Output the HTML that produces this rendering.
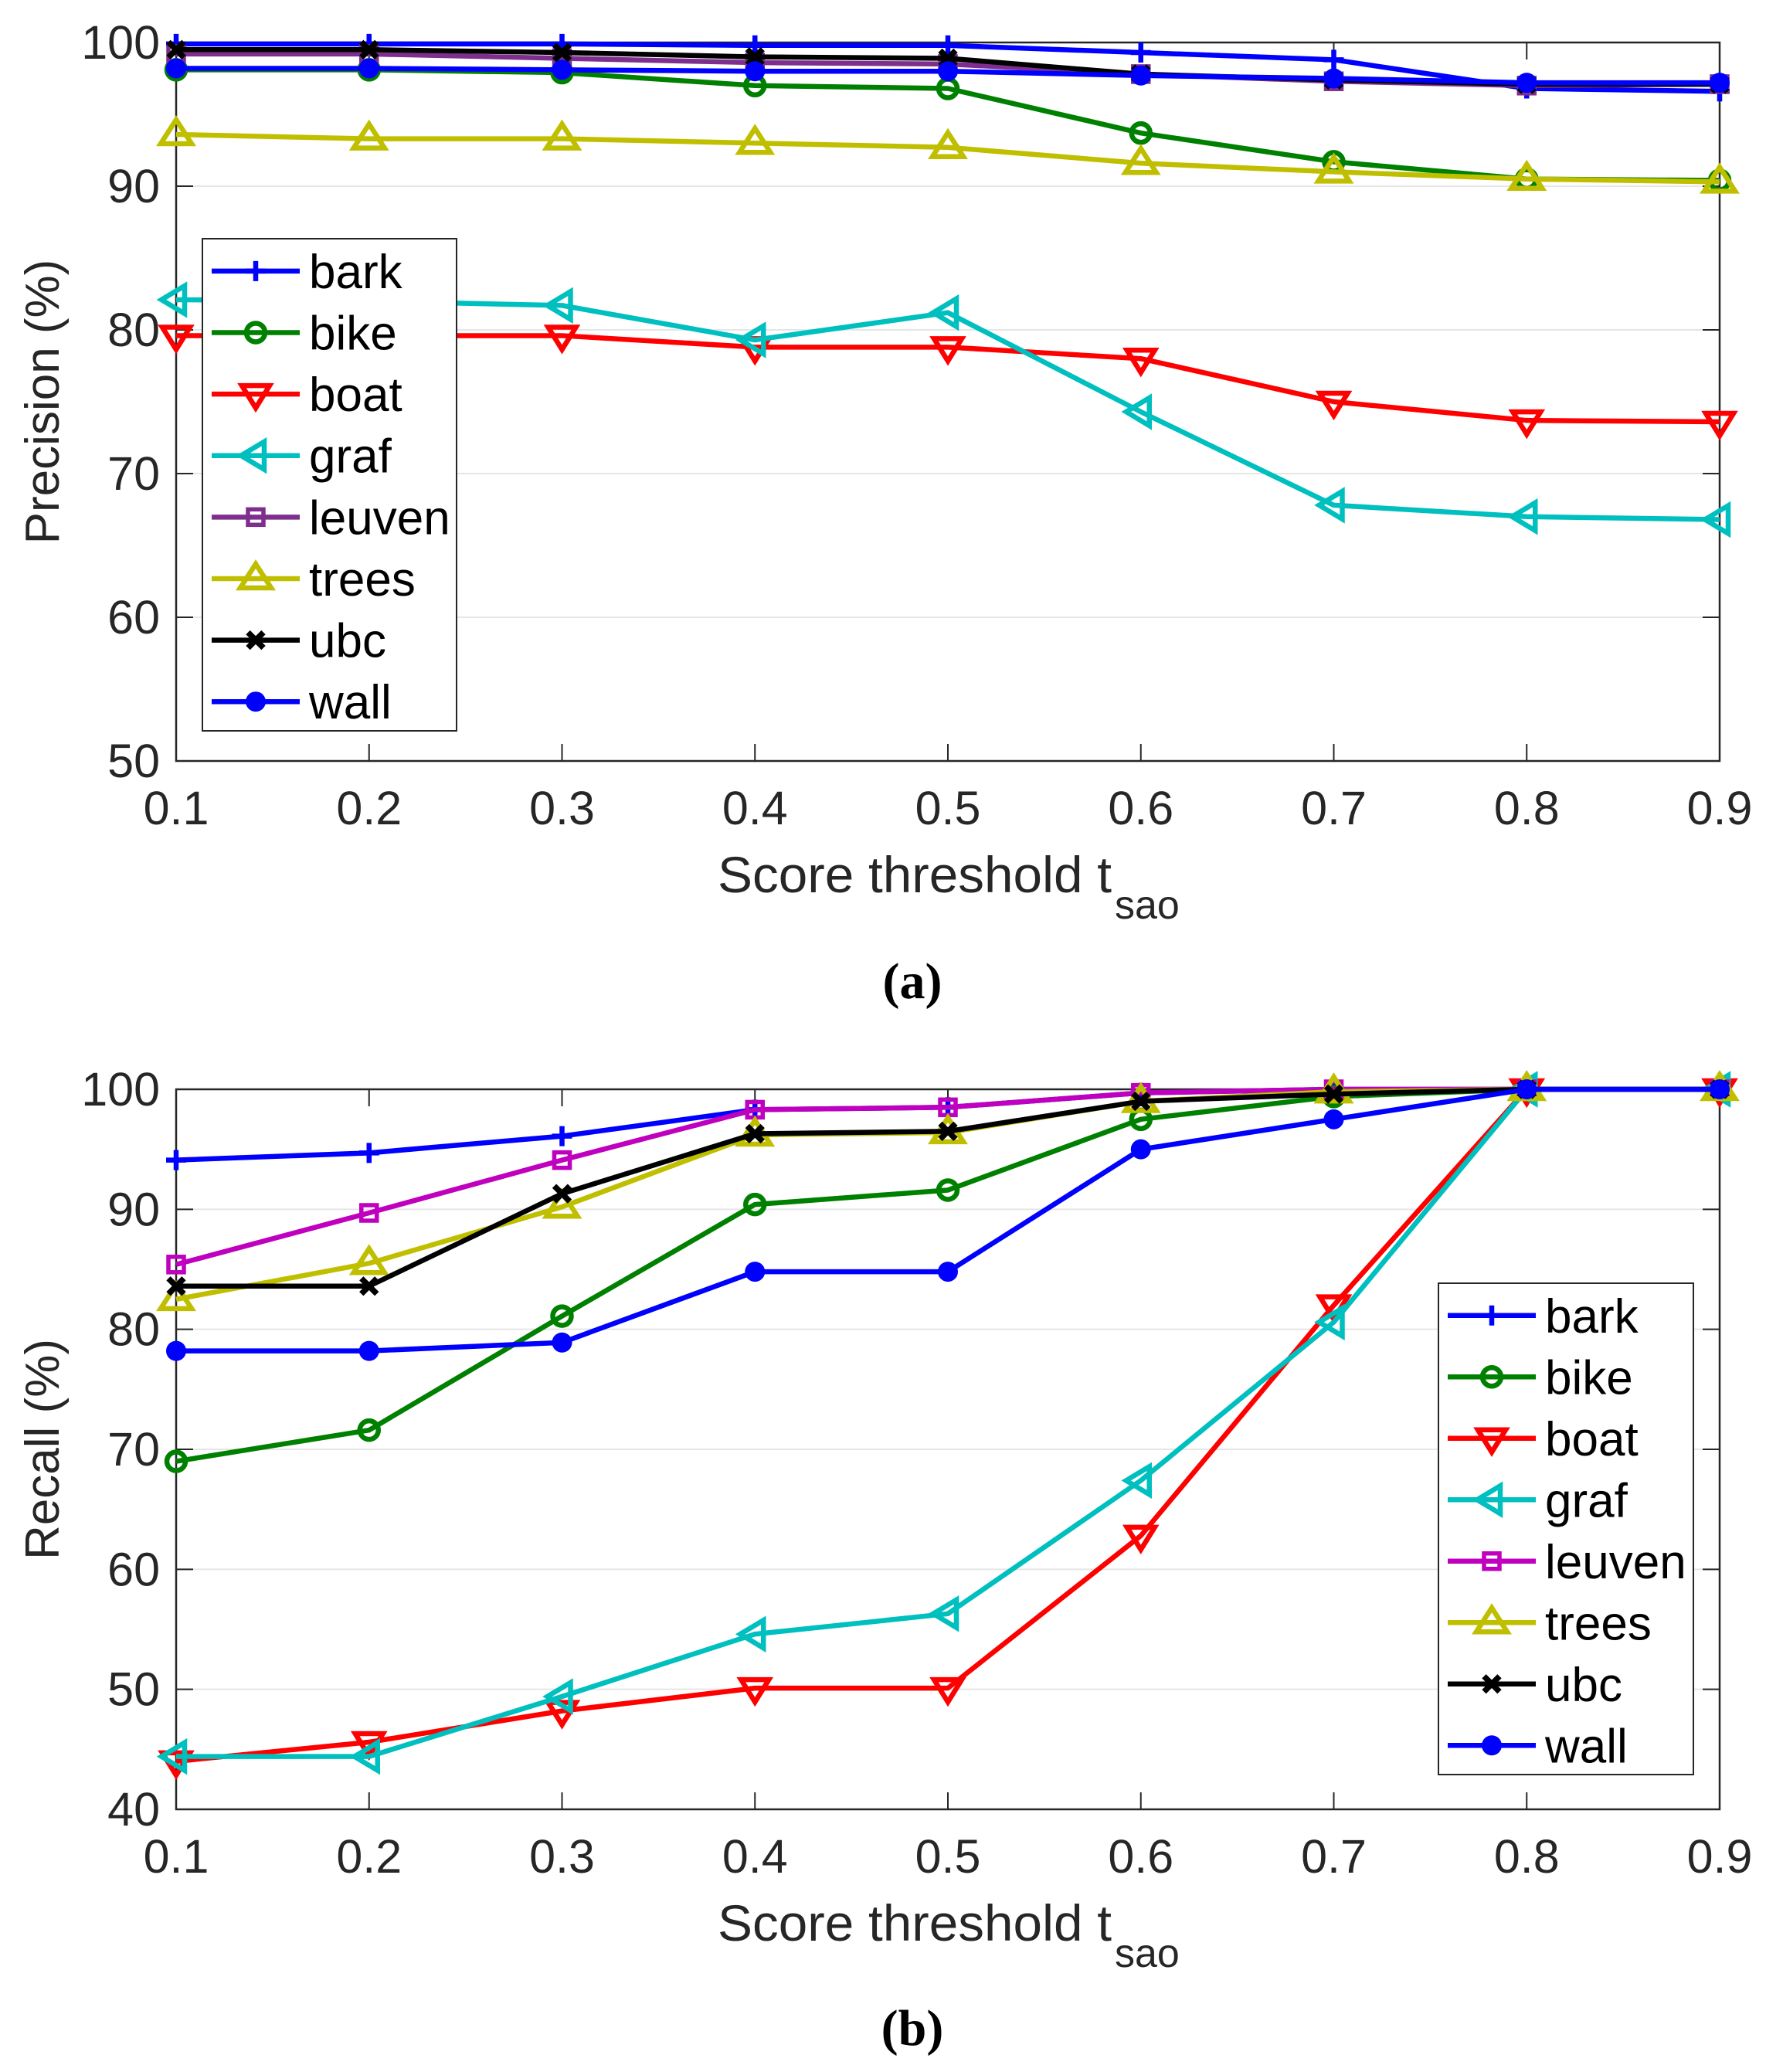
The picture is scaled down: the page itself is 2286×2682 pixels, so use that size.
<!DOCTYPE html>
<html><head><meta charset="utf-8"><style>
html,body{margin:0;padding:0;background:#fff;}
svg{display:block;font-family:"Liberation Sans",sans-serif;}
</style></head><body>
<svg id="fig" width="2286" height="2682" viewBox="0 0 2286 2682"></svg>
<script>
const thresholds=[0.1,0.2,0.3,0.4,0.5,0.6,0.7,0.8,0.9];
const xTickLabels=["0.1","0.2","0.3","0.4","0.5","0.6","0.7","0.8","0.9"];
const seriesNames=["bark","bike","boat","graf","leuven","trees","ubc","wall"];
const precisionTicks=[50,60,70,80,90,100];
const recallTicks=[40,50,60,70,80,90,100];
const precBark=[99.9,99.9,99.9,99.8,99.8,99.3,98.8,96.8,96.6];
const precBike=[98.1,98.1,97.9,97.0,96.8,93.7,91.7,90.5,90.4];
const precBoat=[79.6,79.6,79.6,78.8,78.8,78.0,75.0,73.7,73.6];
const precGraf=[82.1,82.0,81.7,79.3,81.2,74.3,67.8,67.0,66.8];
const precLeuven=[99.2,99.2,98.9,98.6,98.5,97.8,97.3,97.0,97.1];
const precTrees=[93.6,93.3,93.3,93.0,92.7,91.6,91.0,90.5,90.3];
const precUbc=[99.5,99.5,99.3,99.0,98.9,97.8,97.4,97.1,97.1];
const precWall=[98.2,98.2,98.1,98.0,98.0,97.7,97.5,97.2,97.2];
const recBark=[94.1,94.7,96.1,98.3,98.5,99.7,100,100,100];
const recBike=[69.0,71.6,81.1,90.4,91.6,97.5,99.4,100,100];
const recBoat=[44.0,45.6,48.2,50.1,50.1,62.8,82.0,100,100];
const recGraf=[44.4,44.4,49.4,54.6,56.3,67.4,80.6,100,100];
const recLeuven=[85.4,89.7,94.1,98.3,98.5,99.7,100,100,100];
const recTrees=[82.5,85.5,90.2,96.2,96.4,99.0,99.8,100,100];
const recUbc=[83.6,83.6,91.3,96.3,96.5,99.0,99.6,100,100];
const recWall=[78.2,78.2,78.9,84.8,84.8,95.0,97.5,100,100];

const NS="http://www.w3.org/2000/svg";
const svg=document.getElementById('fig');
function mk(tag,attrs,parent){const e=document.createElementNS(NS,tag);for(const k in attrs)e.setAttribute(k,attrs[k]);(parent||svg).appendChild(e);return e;}
const styles={bark:{c:"#0000FF",m:"plus"},bike:{c:"#008000",m:"circle"},boat:{c:"#FF0000",m:"tdown"},graf:{c:"#00BFBF",m:"tleft"},leuven:{c:"#7E2F8E",m:"square"},trees:{c:"#BFBF00",m:"tup"},ubc:{c:"#000000",m:"x"},wall:{c:"#0000FF",m:"dot"}};
const SW=6.5;
function marker(g,type,x,y,c){
  if(type==="plus"){mk('path',{d:`M${x-13},${y}H${x+13}M${x},${y-13}V${y+13}`,stroke:c,'stroke-width':SW,fill:'none'},g);}
  else if(type==="circle"){mk('circle',{cx:x,cy:y,r:12,stroke:c,'stroke-width':SW,fill:'none'},g);}
  else if(type==="dot"){mk('circle',{cx:x,cy:y,r:13,fill:c},g);}
  else if(type==="square"){mk('rect',{x:x-10,y:y-10,width:20,height:20,stroke:c,'stroke-width':5.5,fill:'none'},g);}
  else if(type==="x"){mk('path',{d:`M${x-10},${y-10}L${x+10},${y+10}M${x-10},${y+10}L${x+10},${y-10}`,stroke:c,'stroke-width':7.5,fill:'none'},g);}
  else if(type==="tdown"){mk('path',{d:`M${x-18},${y-11}L${x+18},${y-11}L${x},${y+18}Z`,stroke:c,'stroke-width':SW,fill:'none'},g);}
  else if(type==="tup"){mk('path',{d:`M${x-20},${y+12}L${x+20},${y+12}L${x},${y-19}Z`,stroke:c,'stroke-width':SW,fill:'none'},g);}
  else if(type==="tleft"){mk('path',{d:`M${x-19},${y}L${x+11},${y-18}L${x+11},${y+18}Z`,stroke:c,'stroke-width':SW,fill:'none'},g);}
}
const XL=228,XR=2226;
function xs(v){return XL+(v-0.1)/0.8*(XR-XL);}
function drawPanel(cfg){
  const {top,bot,ymin,ymax,ticks,data,ylabel,legend,panelName,caption,capY,leuvenColor}=cfg;
  const ys=v=>bot-(v-ymin)/(ymax-ymin)*(bot-top);
  const g=mk('g',{});
  
  
  mk('rect',{x:XL,y:top,width:XR-XL,height:bot-top,fill:'#fff'},g);
  ticks.forEach(t=>{
    const y=ys(t);
    if(t!==ymin&&t!==ymax){const gl=mk('line',{x1:XL,x2:XR,y1:y,y2:y,stroke:'#e6e6e6','stroke-width':2},g);}
    mk('line',{x1:XL,x2:XL+22,y1:y,y2:y,stroke:'#262626','stroke-width':2},g);
    mk('line',{x1:XR,x2:XR-22,y1:y,y2:y,stroke:'#262626','stroke-width':2},g);
    const tl=mk('text',{x:207,y:y+21,'font-size':61,'text-anchor':'end',fill:'#262626'},g);tl.textContent=t;
    
    
  });
  thresholds.forEach((v,i)=>{
    const x=xs(v);
    mk('line',{x1:x,x2:x,y1:bot,y2:bot-22,stroke:'#262626','stroke-width':2},g);
    mk('line',{x1:x,x2:x,y1:top,y2:top+22,stroke:'#262626','stroke-width':2},g);
    const tl=mk('text',{x:x,y:bot+82,'font-size':61,'text-anchor':'middle',fill:'#262626'},g);tl.textContent=xTickLabels[i];
    
    
  });
  mk('rect',{x:XL,y:top,width:XR-XL,height:bot-top,fill:'none',stroke:'#262626','stroke-width':2.5},g);
  seriesNames.forEach((n,si)=>{
    const st=styles[n];const c=n==='leuven'?leuvenColor:st.c;
    const sg=mk('g',{},g);
    
    
    const pts=data[si].map((v,i)=>xs(thresholds[i])+','+ys(v)).join(' ');
    mk('polyline',{points:pts,fill:'none',stroke:c,'stroke-width':SW,'stroke-linejoin':'round'},sg);
    data[si].forEach((v,i)=>{marker(sg,st.m,xs(thresholds[i]),ys(v),c);});
  });
  const lg=mk('g',{},g);
  
  
  mk('rect',{x:legend.x,y:legend.y,width:legend.w,height:legend.h,fill:'#fff',stroke:'#262626','stroke-width':2},lg);
  const rowH=legend.h/8;
  seriesNames.forEach((n,si)=>{
    const st=styles[n];const c=n==='leuven'?leuvenColor:st.c;
    const cy=legend.y+rowH*(si+0.5)+2;
    const eg=mk('g',{},lg);
    
    
    mk('line',{x1:legend.x+12,x2:legend.x+126,y1:cy,y2:cy,stroke:c,'stroke-width':SW},eg);
    marker(eg,st.m,legend.x+69,cy,c);
    const t=mk('text',{x:legend.x+138,y:cy+22,'font-size':62,fill:'#000'},eg);t.textContent=n;
  });
  const yl=mk('text',{x:0,y:0,'font-size':62,'text-anchor':'middle',fill:'#262626',transform:`translate(76,${(top+bot)/2}) rotate(-90)`},g);
  yl.textContent=ylabel;
  
  
  const xl=mk('text',{x:929,y:bot+170,'font-size':66,fill:'#262626'},g);
  
  
  const t1=mk('tspan',{textLength:510,lengthAdjust:'spacingAndGlyphs'},xl);t1.textContent='Score threshold t';
  const t2=mk('tspan',{dx:4,dy:34,'font-size':52},xl);t2.textContent='sao';
  const cap=mk('text',{x:1181,y:capY,'font-size':66,'font-weight':'bold','text-anchor':'middle','font-family':'"Liberation Serif",serif',fill:'#000'},g);
  cap.textContent=caption;
  
  
}
drawPanel({top:55,bot:985,ymin:50,ymax:100,ticks:precisionTicks,data:[precBark,precBike,precBoat,precGraf,precLeuven,precTrees,precUbc,precWall],ylabel:'Precision (%)',legend:{x:262,y:309,w:329,h:637},panelName:'precision-chart',caption:'(a)',capY:1292,leuvenColor:'#7E2F8E'});
drawPanel({top:1410,bot:2342,ymin:40,ymax:100,ticks:recallTicks,data:[recBark,recBike,recBoat,recGraf,recLeuven,recTrees,recUbc,recWall],ylabel:'Recall (%)',legend:{x:1862,y:1661,w:330,h:636},panelName:'recall-chart',caption:'(b)',capY:2647,leuvenColor:'#BF00BF'});
</script>
</body></html>
